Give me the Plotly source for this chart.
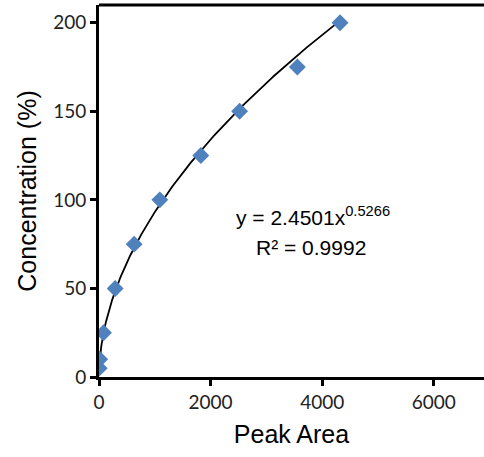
import numpy as np
import plotly.graph_objects as go

# Calibration standards: peak area vs. known concentration
peak_area = [4, 12, 80, 290, 630, 1090, 1825, 2520, 3555, 4320]
concentration = [5, 10, 25, 50, 75, 100, 125, 150, 175, 200]

# Power-law trendline coefficients (y = A * x^B)
fit_a = 2.4501
fit_b = 0.5266
fit_r2 = 0.9992

x_ticks = [0, 2000, 4000, 6000]
y_ticks = [0, 50, 100, 150, 200]

fit_x = np.linspace(min(peak_area), max(peak_area), 400)
fit_y = fit_a * fit_x ** fit_b

fig = go.Figure()
fig.add_trace(go.Scatter(
    x=fit_x, y=fit_y, mode="lines",
    line=dict(color="black", width=1.8),
    hoverinfo="skip", showlegend=False,
))
fig.add_trace(go.Scatter(
    x=peak_area, y=concentration, mode="markers",
    marker=dict(symbol="diamond", size=13, color="#4F81BD"),
    showlegend=False,
))

eq_font = dict(family="Liberation Sans, Arial", size=21, color="black")
fig.add_annotation(
    x=0.555, y=0.432, xref="paper", yref="paper",
    text=f"y = {fit_a:.4f}x<sup>{fit_b:.4f}</sup>",
    showarrow=False, font=eq_font, yanchor="middle",
)
fig.add_annotation(
    x=0.55, y=0.348, xref="paper", yref="paper",
    text=f"R² = {fit_r2:.4f}",
    showarrow=False, font=eq_font, yanchor="middle",
)

# top border of the plot area
fig.add_shape(type="line", xref="paper", yref="paper",
              x0=0, x1=1, y0=1, y1=1,
              line=dict(color="black", width=3))

fig.update_xaxes(
    range=[0, 6900], tickvals=x_ticks,
    showline=True, linecolor="black", linewidth=3,
    ticks="outside", ticklen=6, tickwidth=2.5, tickcolor="black",
    showgrid=False, zeroline=False,
    tickfont=dict(family="Lato", size=19, color="#222"),
    title=dict(text="Peak Area", standoff=14,
               font=dict(family="Liberation Sans, Arial", size=25, color="black")),
)
fig.update_yaxes(
    range=[0, 210], tickvals=y_ticks,
    showline=True, linecolor="black", linewidth=3,
    ticks="outside", ticklen=6, tickwidth=2.5, tickcolor="black",
    showgrid=False, zeroline=False,
    tickfont=dict(family="Lato", size=19, color="#222"),
    title=dict(text="Concentration (%)", standoff=10,
               font=dict(family="Liberation Sans, Arial", size=25, color="black")),
)

fig.update_layout(
    width=484, height=457,
    margin=dict(l=99, r=0, t=5, b=80),
    plot_bgcolor="white", paper_bgcolor="white",
)

fig.write_html("out.html")
